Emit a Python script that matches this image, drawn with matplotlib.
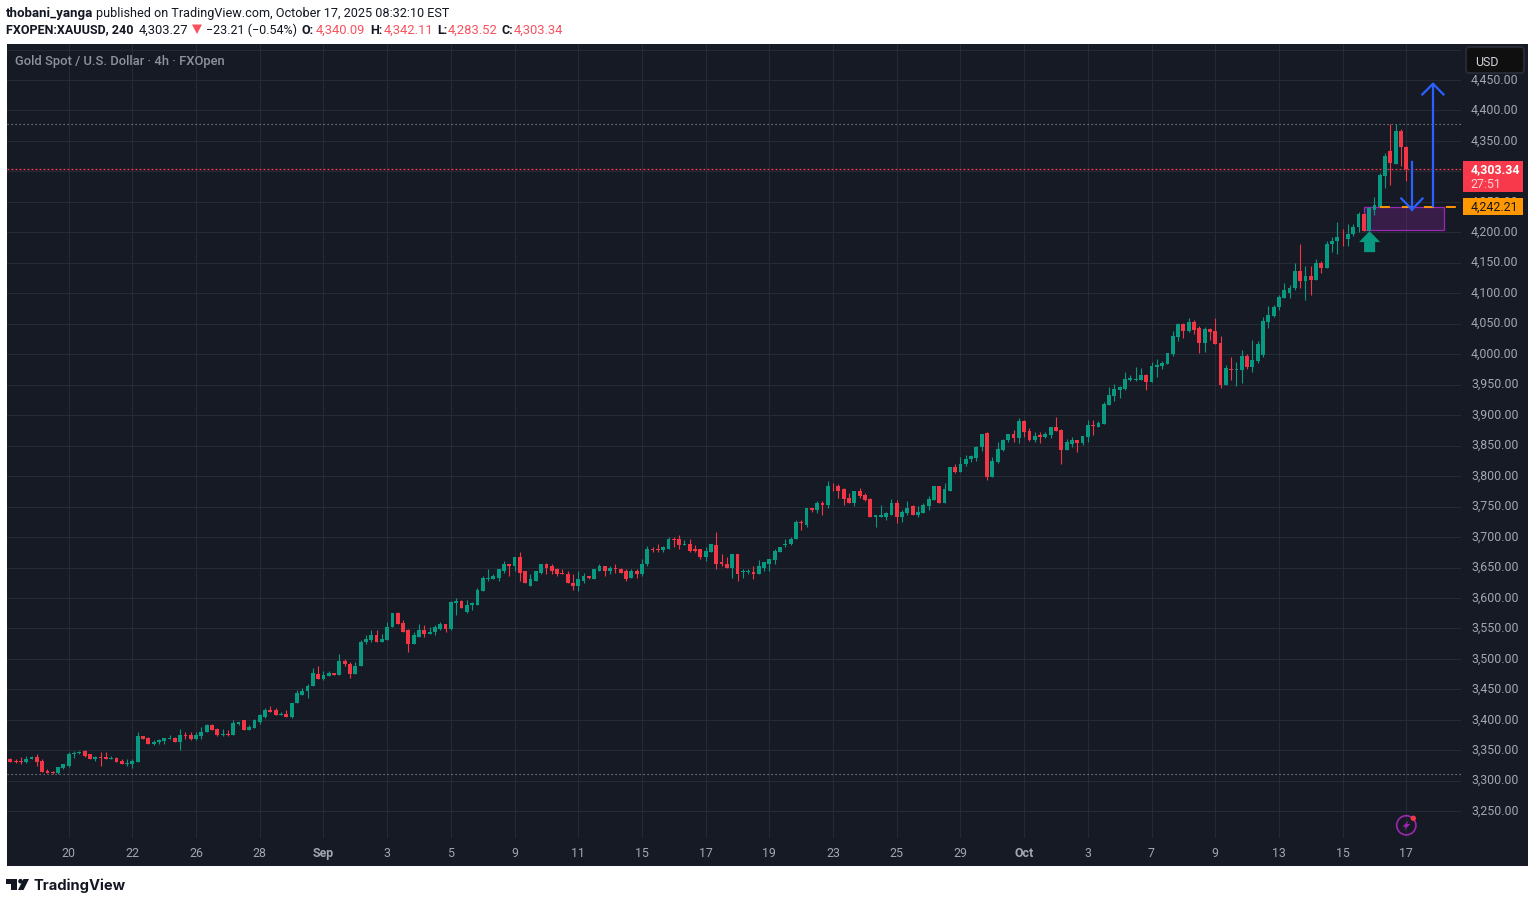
import matplotlib
matplotlib.use("Agg")
import matplotlib.pyplot as plt
import numpy as np
from matplotlib.patches import Rectangle, Polygon, Circle, FancyBboxPatch
from matplotlib.transforms import ScaledTranslation

opens = [
    3336.6,3333.3,3333.3,3331.7,3335,3339.9,3333.3,3316.9,3315.3,3313.6,
    3321.8,3325.1,3343.2,3346.4,3349.7,3343.2,3336.6,3339.9,3339.9,3336.6,
    3338.2,3333.3,3328.4,3328.4,3331.7,3374.3,3371,3361.2,3362.9,3366.1,
    3369.4,3371,3362.9,3376,3376,3369.4,3374.3,3379.3,3392.4,3385.8,
    3376,3377.6,3376,3394,3399,3384.2,3387.5,3397.3,3405.5,3417,
    3415.4,3408.8,3410.4,3405.5,3426.9,3441.6,3446.6,3456.4,3476.1,3467.9,
    3472.8,3477.7,3474.4,3497.4,3492.5,3474.5,3487.6,3527,3530.3,3538.5,
    3528.6,3531.9,3551.6,3574.6,3559.8,3546.7,3525.3,3536.8,3546.7,3541.7,
    3545,3549.9,3558.1,3549.9,3592.6,3595.9,3577.8,3587.7,3589.3,3612.3,
    3632,3632,3633.6,3645.1,3655,3651.7,3666.5,3643.5,3618.9,3628.7,
    3641.8,3655,3651.7,3646.8,3641.8,3640.2,3625.4,3620.5,3628.7,3635.3,
    3630.4,3645.1,3653.3,3645.1,3650,3648.4,3643.5,3633.6,3643.5,3640.2,
    3655,3681.2,3679.6,3678,3681.2,3697.6,3696,3686.2,3689.4,3679.6,
    3679.6,3666.5,3676.3,3686.2,3658.3,3656.6,3650,3671.4,3641.9,3641.9,
    3641.9,3638.6,3650,3656.6,3661.6,3676.3,3686.2,3687.8,3696,3723.9,
    3720.6,3746.9,3743.6,3755.1,3751.8,3784.6,3784.6,3778.1,3764.9,3755.1,
    3774.8,3768.2,3761.7,3732.1,3733.7,3733.7,3737,3756.7,3732.1,3740.3,
    3750.2,3737,3740.3,3750.2,3760,3783,3755.1,3776.4,3814.2,3806,
    3819.1,3827.3,3830.5,3847,3870.6,3798.4,3823,3842.7,3859.1,3869,
    3862.4,3890.3,3873.9,3859.1,3867.3,3864,3867.3,3880.5,3875.5,3842.7,
    3852.6,3859.1,3854.2,3864,3883.7,3880.5,3885.4,3916.6,3931.3,3941.2,
    3942.8,3957.6,3957.6,3957.6,3965.8,3954.3,3978.9,3980.5,3983.8,4000.2,
    4028.1,4049.5,4038,4052.8,4042.9,4018.3,4041.3,4038,4018.3,3949.4,
    3975.6,3974,3974,3997,3978.9,3988.8,3998.6,4052.8,4062.6,4076.7,
    4093.1,4101.3,4109.5,4137.4,4119.4,4127.6,4122.6,4148.9,4140.7,4180.1,
    4185,4193.2,4189.9,4196.5,4208,4230.9,4203,4237.5,4242.4,4291.7,
    4332.7,4311.4,4365.5,4340.09,
]
highs = [
    3338.2,3335,3339.9,3341.5,3341.5,3344.8,3336.6,3320.2,3316.9,3323.5,
    3326.8,3348.1,3349.7,3349.7,3351.4,3344.8,3341.5,3348.1,3348.1,3341.5,
    3339.9,3336.6,3335,3336.6,3379.3,3374.3,3372.7,3367.8,3369.4,3371,
    3376,3372.7,3385.8,3379.3,3379.3,3380.9,3389.1,3394,3394,3387.5,
    3385.8,3384.2,3399,3397.3,3399,3392.4,3402.2,3410.4,3418.7,3423.6,
    3418.7,3413.7,3415.4,3428.5,3449.8,3453.1,3459.7,3485.9,3489.2,3479.4,
    3481,3477.7,3508.9,3499.1,3495.8,3494.2,3530.3,3540.1,3546.7,3546.7,
    3541.7,3561.4,3576.2,3577.8,3564.7,3549.9,3545,3558.1,3556.5,3551.6,
    3556.5,3561.4,3558.1,3595.9,3600.8,3597.5,3597.5,3594.2,3617.2,3636.9,
    3646.8,3638.6,3646.8,3659.9,3656.6,3668.1,3674.7,3645.1,3640.2,3645.1,
    3656.6,3658.2,3655,3650,3648.4,3643.5,3638.6,3643.5,3641.8,3636.9,
    3646.8,3656.6,3653.3,3653.3,3655,3650,3646.8,3646.8,3646.8,3664.8,
    3686.1,3682.9,3689.4,3686.1,3699.3,3699.3,3702.6,3694.4,3696,3686.2,
    3679.6,3682.9,3687.8,3707.5,3671.4,3666.5,3673,3673,3646.8,3646.8,
    3651.7,3661.6,3658.3,3664.8,3679.6,3684.5,3696,3700.9,3727.2,3728.8,
    3746.9,3748.5,3758.4,3758.4,3791.2,3789.5,3786.3,3781.3,3771.5,3776.4,
    3779.7,3773.1,3764.9,3737,3751.8,3741.9,3761.7,3760,3743.6,3758.4,
    3753.4,3750.2,3755.1,3766.6,3783,3783,3787.9,3814.2,3819.1,3830.6,
    3833.9,3833.9,3850.2,3869.9,3872.3,3831.2,3855.8,3860.8,3869,3875.5,
    3895.2,3891.9,3878.8,3872.3,3872.3,3872.3,3880.5,3896.9,3877.2,3860.8,
    3864,3859.1,3865.7,3891.9,3891.9,3890.3,3921.5,3946.1,3951,3947.7,
    3970.7,3965.8,3978.9,3977.3,3967.4,3987.1,3992,3988.8,4001.9,4038,
    4051.1,4051.1,4059.3,4056,4046.2,4044.6,4042.9,4059.3,4029.8,3982.2,
    3995.3,3987.1,4006.8,4000.2,4023.2,4021.6,4061,4079,4080.7,4096.4,
    4117.7,4112.8,4150.5,4180.1,4145.6,4144,4155.5,4152.2,4186.6,4193.2,
    4217.8,4206.3,4212.9,4214.5,4232.6,4230.9,4240.8,4258.8,4298.2,4331,
    4378.6,4378.6,4370.4,4342.11,
]
lows = [
    3331.7,3330,3327.3,3330,3335,3325.1,3315.3,3313.6,3312,3310.9,
    3320.2,3323.5,3338.2,3343.2,3339.9,3336.6,3333.3,3325.1,3335,3336.6,
    3331.7,3326.8,3325.1,3321.8,3331.7,3369.4,3361.2,3359.6,3361.2,3361.2,
    3369.4,3364.5,3351.4,3369.4,3367.8,3367.8,3369.4,3379.3,3382.6,3374.3,
    3374.3,3374.3,3376,3391.8,3384.2,3384.2,3387.5,3394,3403.9,3413.7,
    3408.8,3407.2,3405.5,3403.9,3426.9,3441.6,3436.7,3454.8,3467.9,3466.2,
    3472.8,3474.4,3474.4,3489.2,3469.5,3474.5,3487.6,3525.3,3527,3527,
    3528.6,3531.9,3551.6,3558.1,3543.4,3510.6,3523.7,3536.8,3535.2,3541.7,
    3540.1,3546.7,3545,3548.3,3572.9,3584.4,3576.2,3579.5,3589.3,3612.3,
    3628.7,3632,3628.7,3641.8,3636.9,3643.5,3627.1,3623.8,3618.9,3628.7,
    3640.2,3640.2,3638.6,3635.3,3638.6,3623.8,3613.9,3612.3,3625.4,3630.4,
    3630.4,3645.1,3636.9,3638.6,3641.8,3641.8,3627.1,3633.6,3633.6,3636.9,
    3653.3,3676.3,3676.3,3674.7,3681.2,3684.5,3679.6,3686.2,3676.3,3674.7,
    3663.2,3659.9,3676.3,3646.8,3651.7,3650,3633.6,3628.7,3633.6,3640.2,
    3632,3638.6,3643.5,3643.5,3656.6,3676.3,3684.5,3686.2,3696,3712.4,
    3717.3,3741.9,3738.7,3737,3748.5,3774.8,3764.9,3751.8,3755.1,3750.2,
    3763.3,3758.4,3732.1,3717.3,3733.7,3728.8,3737,3722.3,3723.9,3737,
    3737,3733.7,3738.7,3743.6,3760,3756.7,3755.1,3776.4,3804.3,3806,
    3817.4,3822.4,3825.6,3842,3793.5,3798.4,3821.4,3841.1,3855.8,3855.8,
    3854.2,3864,3857.5,3855.8,3854.2,3862.4,3862.4,3873.9,3819.7,3842.7,
    3847.6,3839.4,3850.9,3855.8,3867.3,3880.5,3885.4,3916.6,3923.1,3928.1,
    3941.2,3955.9,3955.9,3957.6,3941.2,3954.3,3962.5,3975.6,3983.8,3997,
    4021.6,4026.5,4036.3,4033.1,4001.9,4003.5,4023.2,4016.7,3944.5,3949.4,
    3957.6,3947.7,3952.7,3975.6,3970.7,3985.5,3995.3,4042.9,4061,4073.4,
    4091.5,4091.5,4106.2,4109.5,4089.8,4098,4121,4134.1,4140.7,4167,
    4165.3,4176.8,4178.4,4194.8,4199.8,4203,4203,4227.7,4242.4,4273.6,
    4278.5,4311.4,4308.1,4283.52,
]
closes = [
    3331.7,3331.7,3331.7,3336.6,3339.9,3331.7,3315.3,3313.6,3313.6,3323.5,
    3326.8,3344.8,3346.4,3348.1,3341.5,3336.6,3339.9,3338.2,3335,3338.2,
    3331.7,3328.4,3330,3333.3,3374.3,3369.4,3361.2,3364.5,3367.8,3371,
    3371,3364.5,3376,3374.3,3369.4,3376,3380.9,3392.4,3384.2,3376,
    3377.6,3376,3395.7,3397.3,3384.2,3389.1,3399,3407.2,3417,3413.7,
    3408.8,3410.4,3405.5,3428.5,3443.3,3448.2,3456.4,3477.7,3467.9,3474.4,
    3477.7,3474.4,3497.4,3490.9,3474.5,3489.2,3528.6,3533.5,3538.5,3528.6,
    3533.5,3553.2,3574.6,3558.1,3545,3525.3,3538.5,3546.7,3541.7,3545,
    3551.6,3558.1,3549.9,3594.2,3595.9,3584.4,3589.3,3591,3613.9,3633.6,
    3633.6,3635.3,3646.8,3655,3651.7,3666.5,3641.8,3623.8,3630.4,3643.5,
    3655,3650,3645.1,3638.6,3640.2,3623.8,3620.5,3630.4,3635.3,3633.6,
    3646.8,3653.3,3645.1,3650,3646.8,3641.8,3632,3643.5,3640.2,3656.6,
    3681.2,3678,3678,3682.9,3697.6,3694.4,3686.2,3689.4,3677.9,3677.9,
    3666.5,3677.9,3687.8,3656.6,3656.6,3650,3671.4,3640.2,3643.5,3643.5,
    3638.6,3651.7,3658.3,3663.2,3677.9,3684.5,3689.4,3697.6,3723.9,3722.3,
    3746.9,3745.2,3755.1,3753.4,3784.6,3783,3776.4,3761.7,3755.1,3774.8,
    3766.6,3760,3732.1,3735.4,3735.4,3738.7,3756.7,3732.1,3741.9,3748.5,
    3737,3741.9,3751.8,3761.7,3783,3756.7,3778.1,3814.2,3806,3820.7,
    3828.9,3832.2,3848.6,3869.9,3798.4,3824.7,3844.3,3859.1,3869,3862.4,
    3890.3,3872.3,3859.1,3865.7,3864,3869,3880.5,3873.9,3842.7,3855.8,
    3859.1,3854.2,3865.7,3883.7,3882.1,3887,3918.2,3933,3942.8,3946.1,
    3959.2,3960.9,3959.2,3965.8,3954.3,3980.5,3982.2,3985.5,4001.9,4029.8,
    4049.5,4038,4052.8,4039.6,4018.3,4041.3,4036.3,4016.7,3949.4,3977.3,
    3974,3975.6,3997,3978.9,3990.4,4016.7,4054.4,4064.2,4077.4,4094.7,
    4104.6,4109.5,4137.4,4119.4,4127.6,4122.6,4148.9,4140.7,4181.7,4186.6,
    4193.2,4191.6,4198.1,4208,4230.9,4203,4239.2,4245.7,4293.3,4326.1,
    4313,4365.5,4339.3,4303.34,
]

y_ticks = [3250 + 50 * k for k in range(26)]
x_tick_bars = [11 + 12 * k for k in range(22)]
x_tick_labels = ["20", "22", "26", "28", "Sep", "3", "5", "9", "11", "15", "17",
                 "19", "23", "25", "29", "Oct", "3", "7", "9", "13", "15", "17"]

last_price = 4303.34
session_high = 4378.6
session_low = 3311.0
entry_price = 4242.21
zone_low = 4204.0

BG = "#161a25"
GRID = "#262a35"
UP = "#089981"
DOWN = "#f23645"
BLUE = "#2962ff"
TICK = "#a3a6af"
W, H = 1535, 904

plt.rcParams["font.family"] = ["Roboto", "DejaVu Sans"]
fig = plt.figure(figsize=(W / 100, H / 100), dpi=100, facecolor="white")


def axes_px(left, top, right, bottom):
    return fig.add_axes([left / W, 1 - bottom / H, (right - left) / W, (bottom - top) / H])


# page layer, behind the chart
page = axes_px(0, 0, W, H)
page.set_xlim(0, W)
page.set_ylim(H, 0)
page.axis("off")
page.add_patch(Rectangle((7, 44.6), 1521, 822, fc=BG, ec="none"))

# chart pane
ax = axes_px(7, 44.5, 1461, 838.5)
ax.set_facecolor(BG)
ax.set_xlim(-0.622, 273.3)
ax.set_ylim(3207.0, 4509.9)
for s in ax.spines.values():
    s.set_visible(False)
ax.yaxis.tick_right()
ax.set_yticks(y_ticks)
# 4,500 has only its grid line and 4,300 sits behind the price label
ax.set_yticklabels(["" if v in (4500, 4300) else f"{v:,.2f}" for v in y_ticks])
ax.set_xticks(x_tick_bars)
ax.set_xticklabels(x_tick_labels)
ax.tick_params(axis="y", length=0, pad=7.2, labelsize=8.9, labelcolor=TICK)
ax.tick_params(axis="x", length=0, pad=6.2, labelsize=8.9, labelcolor=TICK)
for lab in ax.get_xticklabels():
    if lab.get_text() in ("Sep", "Oct"):
        lab.set_fontweight("bold")
lift = ScaledTranslation(0, 2.6 / 100, fig.dpi_scale_trans)
for lab in ax.get_yticklabels():
    lab.set_transform(lab.get_transform() + lift)
ax.grid(True, color=GRID, lw=0.8)
ax.set_axisbelow(True)

# candles
bars = np.arange(len(opens))
o = np.array(opens)
c = np.array(closes)
colors = np.where(c < o, DOWN, UP)
ax.vlines(bars, lows, highs, colors=colors, lw=0.8, zorder=3)
ax.bar(bars, np.maximum(np.abs(c - o), 1.6), bottom=np.minimum(o, c), width=0.72,
       color=colors, linewidth=0, zorder=3)

# levels
ax.axhline(session_high, color="#8a8d96", lw=0.8, ls=(0, (1.1, 2.5)), zorder=2)
ax.axhline(session_low, color="#8a8d96", lw=0.8, ls=(0, (1.1, 2.5)), zorder=2)
ax.axhline(last_price, color="#ff3a4c", lw=0.9, ls=(0, (1.5, 1.7)), zorder=2)

# drawings on the chart
ax.add_patch(Rectangle((255.08, zone_low), 14.96, entry_price - zone_low, fc="#9c27b0",
                       alpha=0.25, ec="none", zorder=2.5))
ax.add_patch(Rectangle((255.08, zone_low), 14.96, entry_price - zone_low, fc="none",
                       ec="#9c27b0", lw=0.9, zorder=2.6))
ax.plot([258.04, 272.4], [entry_price, entry_price], color="#ff9800", lw=1.4,
        ls=(0, (5.1, 6.2)), zorder=5, dash_capstyle="butt")
ax.plot([264.07, 264.07], [4314.7, 4237.5], color=BLUE, lw=1.6, zorder=6)
ax.plot([262.05, 264.07, 266.05], [4255.6, 4237.5, 4255.6], color=BLUE, lw=1.6, zorder=6)
ax.plot([268.03, 268.03], [4242.5, 4443.8], color=BLUE, lw=1.6, zorder=6)
ax.plot([266.0, 268.03, 270.0], [4426.3, 4443.8, 4426.3], color=BLUE, lw=1.6, zorder=6)
ax.add_patch(Polygon([(256.08, 4202), (258.08, 4184), (257.12, 4184), (257.12, 4167.5),
                      (255.04, 4167.5), (255.04, 4184), (254.08, 4184)],
                     closed=True, fc=UP, ec="none", zorder=6))

# overlay for labels, icon and header
top = axes_px(0, 0, W, H)
top.set_xlim(0, W)
top.set_ylim(H, 0)
top.axis("off")
top.patch.set_alpha(0)

top.add_patch(FancyBboxPatch((1468, 50), 54, 22, boxstyle="round,pad=2,rounding_size=3",
                             fc="#0f0f0f", ec="#2a2e39", lw=1.2))
top.text(1475, 62, "USD", color="#d1d4dc", fontsize=8.9, va="center")
top.add_patch(Rectangle((1462.7, 161.7), 60.3, 31.3, fc="#f7394b", ec="none"))
top.text(1471, 170, "4,303.34", color="white", fontsize=8.9, fontweight="bold", va="center")
top.text(1470.5, 184, "27:51", color="#fbd0d4", fontsize=8.9, va="center")
top.add_patch(Rectangle((1462.7, 199.3), 60.3, 16.4, fc="#ff9800", ec="none"))
top.text(1471, 207.5, "4,242.21", color="#131722", fontsize=8.9, va="center")

top.text(15, 61, "Gold Spot / U.S. Dollar · 4h · FXOpen", color="#8f929b", fontsize=9.35,
         fontweight="medium", va="center")

top.add_patch(Circle((1406.3, 826.3), 9.6, fc="none", ec="#9c27b0", lw=1.2))
top.add_patch(Polygon([(1408.5, 821.5), (1402.5, 827.8), (1405.8, 827.8), (1404, 831.5),
                       (1410.3, 825), (1407, 825)], closed=True, fc="#9c27b0", ec="none"))
top.add_patch(Circle((1413.3, 819.3), 2.7, fc=DOWN, ec="none"))

# header
INK = "#131722"
RED = "#f7525f"
header_top = [(6, "thobani_yanga", INK, "bold", 9.5),
              (96, "published on TradingView.com, October 17, 2025 08:32:10 EST", INK, "normal", 9.1)]
header_sub = [(6, "FXOPEN:XAUUSD, 240", INK, "bold", 9), (139, "4,303.27", INK, "normal", 9.4),
              (206, "−23.21 (−0.54%)", INK, "normal", 9), (302, "O:", INK, "bold", 9),
              (316, "4,340.09", RED, "normal", 9.4), (370, "H:", INK, "bold", 9),
              (384, "4,342.11", RED, "normal", 9.4), (437, "L:", INK, "bold", 9),
              (448, "4,283.52", RED, "normal", 9.4), (502, "C:", INK, "bold", 9),
              (514, "4,303.34", RED, "normal", 9.4)]
for x, s, col, wt, fs in header_top:
    top.text(x, 13, s, color=col, fontweight=wt, fontsize=fs, va="center")
for x, s, col, wt, fs in header_sub:
    top.text(x, 30, s, color=col, fontweight=wt, fontsize=fs, va="center")
top.add_patch(Polygon([(192, 25.5), (202, 25.5), (197, 35)], closed=True, fc=RED, ec="none"))

# logo
top.add_patch(Polygon([(6, 880), (17, 880), (17, 891), (11, 891), (11, 885), (6, 885)],
                      closed=True, fc="#131722", ec="none"))
top.add_patch(Circle((20.5, 882.2), 2.3, fc="#131722", ec="none"))
top.add_patch(Polygon([(23.5, 880), (29, 880), (23.5, 891), (18, 891)], closed=True,
                      fc="#131722", ec="none"))
top.text(33, 885.5, "TradingView", color="#131722", fontsize=10.6, fontweight="bold",
         family="Inter", va="center")

fig.savefig("out.png", dpi=100, facecolor="white")
